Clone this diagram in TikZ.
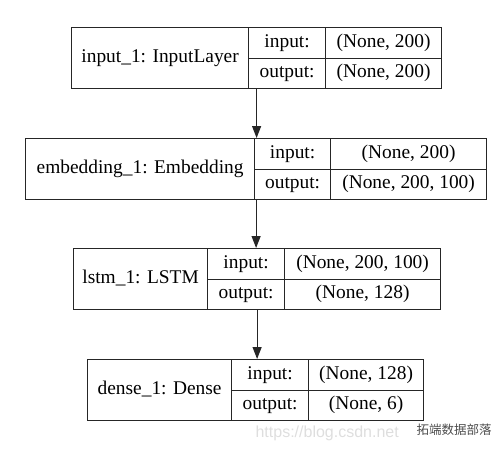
\documentclass[tikz,border=0pt]{standalone}
\usepackage{fontspec}
\setmainfont{Liberation Serif}
\newfontfamily\urlfont{Liberation Sans}
\newfontfamily\cjk{Noto Sans CJK SC}
\usetikzlibrary{arrows.meta}

\begin{document}
\begin{tikzpicture}[x=1pt,y=-1pt,
  line width=1.2pt, >={Triangle[length=12pt,width=9pt]},
  cell/.style={draw=black!85, inner sep=0pt, anchor=north west,
    font=\fontsize{19.4}{23}\selectfont, text height=13pt, text depth=4pt},
  rec/.style={draw=black!85, inner sep=0pt, anchor=north west}]
\useasboundingbox (0,0) rectangle (504,451);
\def\h{61}
\def\hh{30.5}
% id / left / divider / divider / right / top / name / input / output
\foreach \id/\xa/\xb/\xc/\xd/\ya/\lab/\inp/\outp in {
  1/71/248/325/441/27/{input\_1: InputLayer}/{(None, 200)}/{(None, 200)},
  2/25/254/330/486/138/{embedding\_1: Embedding}/{(None, 200)}/{(None, 200, 100)},
  3/73/207/284/440/248/{lstm\_1: LSTM}/{(None, 200, 100)}/{(None, 128)},
  4/87/231/308/423/359/{dense\_1: Dense}/{(None, 128)}/{(None, 6)}}{
\node[rec, minimum width={(\xd-\xa)*1pt}, minimum height=\h pt] (rec\id) at (\xa,\ya) {};
\node[cell, minimum width={(\xb-\xa)*1pt}, minimum height=\h pt] (name\id) at (\xa,\ya) {\lab};
\node[cell, minimum width={(\xc-\xb)*1pt}, minimum height=\hh pt] (inl\id) at (\xb,\ya) {input:};
\node[cell, minimum width={(\xd-\xc)*1pt}, minimum height=\hh pt] (inv\id) at (\xc,\ya) {\inp};
\node[cell, minimum width={(\xc-\xb)*1pt}, minimum height=\hh pt] (outl\id) at (\xb,\ya+\hh) {output:};
\node[cell, minimum width={(\xd-\xc)*1pt}, minimum height=\hh pt] (outv\id) at (\xc,\ya+\hh) {\outp};
}
\foreach \a/\b in {1/2,2/3,3/4}{
\draw[->, black!85] (rec\a.south) -- (rec\a.south |- rec\b.north);}
% watermark
\node[anchor=west, inner sep=0pt, text=black!13, font=\urlfont\fontsize{16}{18}\selectfont] (url) at (255,433) {https://blog.csdn.net};
\node[anchor=west, inner sep=0pt, text=black!70, font=\cjk\fontsize{12.5}{14}\selectfont] (wx) at (416,430) {拓端数据部落};
\end{tikzpicture}
\end{document}
